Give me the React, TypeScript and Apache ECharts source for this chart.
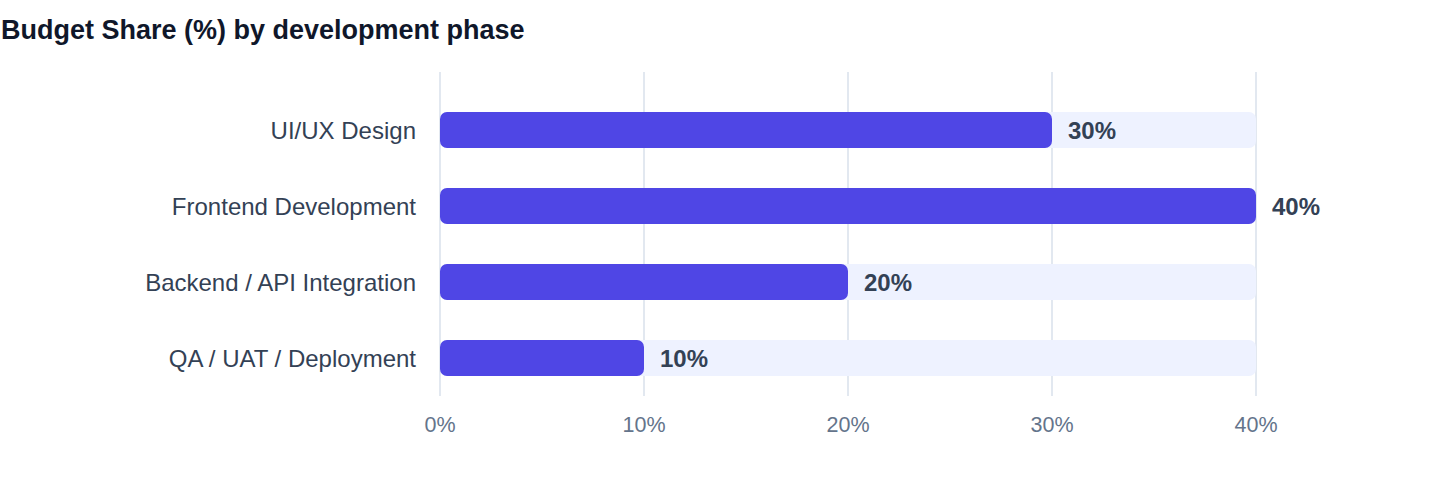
import React, { useEffect, useRef } from 'react'
import * as echarts from 'echarts'

const phases = ['UI/UX Design', 'Frontend Development', 'Backend / API Integration', 'QA / UAT / Deployment']
const budgetShare = [30, 40, 20, 10]
const axisMax = 40
const axisStep = 10

const FONT = 'Helvetica, Arial, "Liberation Sans", sans-serif'

const App = () => {
    const chart: any = useRef()

    useEffect(() => {
        document.body.style.margin = '0'
        const myChart = echarts.init(chart.current, null, { renderer: 'svg' })
        myChart.setOption({
            animation: false,
            title: {
                text: 'Budget Share (%) by development phase',
                left: 1,
                top: 16,
                padding: 0,
                textStyle: {
                    fontFamily: FONT,
                    fontSize: 27,
                    fontWeight: 'bold',
                    color: '#0F172A',
                },
            },
            grid: [
                // lines + x labels; they start a bit above the first bar
                { left: 440, right: 184, top: 72, bottom: 88 },
                // bars
                { left: 440, right: 184, top: 92, bottom: 88 },
            ],
            xAxis: [
                {
                    gridIndex: 0,
                    type: 'value',
                    min: 0,
                    max: axisMax,
                    interval: axisStep,
                    axisLine: { show: false },
                    axisTick: { show: false },
                    axisLabel: {
                        formatter: '{value}%',
                        margin: 18,
                        fontFamily: FONT,
                        fontSize: 21.5,
                        color: '#64748B',
                    },
                    splitLine: { show: true, lineStyle: { color: '#E2E8F0', width: 2 } },
                },
                {
                    gridIndex: 1,
                    type: 'value',
                    min: 0,
                    max: axisMax,
                    interval: axisStep,
                    show: false,
                },
            ],
            yAxis: [
                {
                    gridIndex: 0,
                    type: 'category',
                    data: phases,
                    show: false,
                },
                {
                    gridIndex: 1,
                    type: 'category',
                    inverse: true,
                    data: phases,
                    axisLine: { show: false },
                    axisTick: { show: false },
                    axisLabel: {
                        margin: 24,
                        fontFamily: FONT,
                        fontSize: 24,
                        color: '#334155',
                    },
                },
            ],
            series: [
                {
                    type: 'bar',
                    xAxisIndex: 1,
                    yAxisIndex: 1,
                    data: budgetShare,
                    barWidth: 36,
                    showBackground: true,
                    backgroundStyle: { color: '#EEF2FF', borderRadius: 7 },
                    itemStyle: { color: '#4F46E5', borderRadius: 7 },
                    label: {
                        show: true,
                        position: 'right',
                        distance: 16,
                        formatter: '{c}%',
                        fontFamily: FONT,
                        fontSize: 24,
                        fontWeight: 'bold',
                        color: '#334155',
                    },
                },
            ],
        })
        return () => {
            myChart.dispose()
        }
    }, [])

    return <div ref={chart} style={{ width: 1440, height: 484 }} />
}

export default App
